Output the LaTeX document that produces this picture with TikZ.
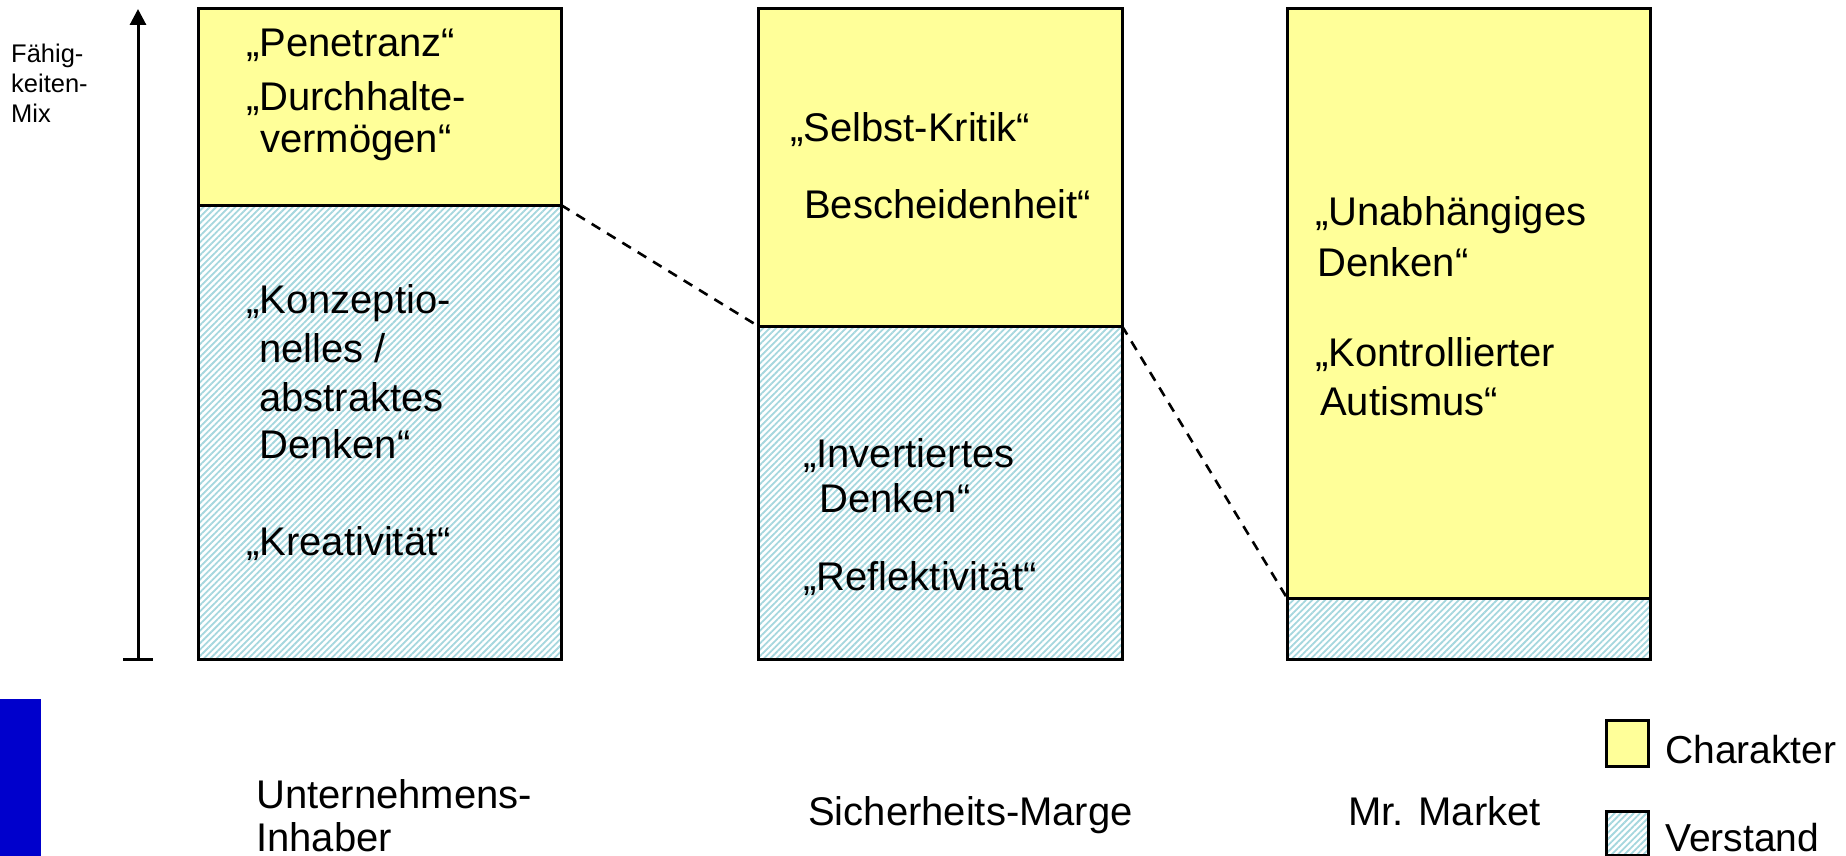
\documentclass[tikz,border=0pt]{standalone}
\usepackage{fontspec}
\setmainfont{Liberation Sans}
\usetikzlibrary{patterns.meta,arrows.meta}
\definecolor{charyellow}{RGB}{255,255,153}
\definecolor{hatchblue}{RGB}{165,215,222}
\definecolor{barblue}{RGB}{0,0,204}
\tikzset{
  charfill/.style={fill=charyellow},
  verfill/.style={pattern={Lines[angle=45,distance=4.5pt,line width=1.8pt]},pattern color=hatchblue},
  boxline/.style={draw=black,line width=3pt},
  boxtext/.style={anchor=base west,inner sep=0pt,font=\fontsize{40}{48}\selectfont},
  labeltext/.style={anchor=base west,inner sep=0pt,font=\fontsize{40}{46}\selectfont},
  legendtext/.style={anchor=base west,inner sep=0pt,font=\fontsize{39}{44}\selectfont},
  axistext/.style={anchor=base west,inner sep=0pt,font=\fontsize{25.5}{31}\selectfont},
  link/.style={draw=black,line width=2.6pt,dash pattern=on 10pt off 8pt},
}
\begin{document}
\begin{tikzpicture}[x=1pt,y=-1pt]
\useasboundingbox (0,0) rectangle (1846,856);
\fill[white] (0,0) rectangle (1846,856);

% blue bar
\fill[barblue] (0,699) rectangle (41,856);

% axis
\coordinate (axbot) at (138,659);
\coordinate (axtop) at (138,9);
\draw[line width=3pt,-{Triangle[width=16pt,length=16pt]}] (axbot) -- (axtop);
\draw[line width=3pt] (123,659) -- (153,659);
\node[axistext] (ax1) at (11,63) {Fähig-};
\node[axistext] (ax2) at (11,93) {keiten-};
\node[axistext] (ax3) at (11,122) {Mix};

% box 1
\path[verfill] (198,205) rectangle (561,659);
\path[charfill] (198,9) rectangle (561,205);
\draw[boxline] (198,9) rectangle (561,659);
\draw[boxline] (198,205) -- (561,205);
\coordinate (b1r) at (561,205);

% box 2
\path[verfill] (758,326) rectangle (1122,659);
\path[charfill] (758,9) rectangle (1122,326);
\draw[boxline] (758,9) rectangle (1122,659);
\draw[boxline] (758,326) -- (1122,326);
\coordinate (b2l) at (758,326);
\coordinate (b2r) at (1122,326);

% box 3
\path[verfill] (1287,598) rectangle (1650,659);
\path[charfill] (1287,9) rectangle (1650,598);
\draw[boxline] (1287,9) rectangle (1650,659);
\draw[boxline] (1287,598) -- (1650,598);
\coordinate (b3l) at (1287,598);

% dashed links
\draw[link] (b1r) -- (b2l);
\draw[link] (b2r) -- (b3l);

% box 1 texts
\node[boxtext] (t11) at (246,57) {„Penetranz“};
\node[boxtext] (t12) at (246,111) {„Durchhalte-};
\node[boxtext] (t13) at (260,152) {vermögen“};
\node[boxtext] (t14) at (246,313) {„Konzeptio-};
\node[boxtext] (t15) at (259,362) {nelles /};
\node[boxtext] (t16) at (259,411) {abstraktes};
\node[boxtext] (t17) at (259,458) {Denken“};
\node[boxtext] (t18) at (246,555) {„Kreativität“};

% box 2 texts
\node[boxtext] (t21) at (790,141) {„Selbst-Kritik“};
\node[boxtext] (t22) at (804,218) {Bescheidenheit“};
\node[boxtext] (t23) at (803,467) {„Invertiertes};
\node[boxtext] (t24) at (819,512) {Denken“};
\node[boxtext] (t25) at (803,590) {„Reflektivität“};

% box 3 texts
\node[boxtext] (t31) at (1315,225) {„Unabhängiges};
\node[boxtext] (t32) at (1317,276) {Denken“};
\node[boxtext] (t33) at (1315,366) {„Kontrollierter};
\node[boxtext] (t34) at (1320,415) {Autismus“};

% bottom labels
\node[labeltext] (l1a) at (256,808) {Unternehmens-};
\node[labeltext] (l1b) at (256,851) {Inhaber};
\node[labeltext] (l2) at (808,825) {Sicherheits-Marge};
\node[labeltext] (l3) at (1348,825) {Mr. Market};

% legend
\path[charfill] (1606,720) rectangle (1648,766);
\draw[boxline] (1606,720) rectangle (1648,766);
\path[verfill] (1606,811) rectangle (1648,855);
\draw[boxline] (1606,811) rectangle (1648,855);
\node[legendtext] (lg1) at (1665,763) {Charakter};
\node[legendtext] (lg2) at (1665,851) {Verstand};
\end{tikzpicture}
\end{document}
